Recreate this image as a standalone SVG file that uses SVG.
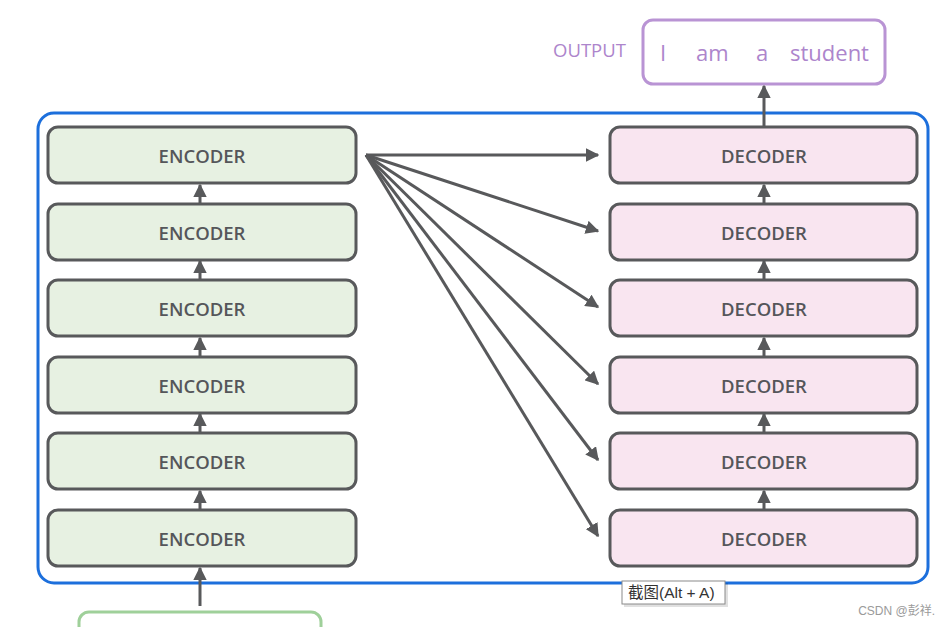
<svg xmlns="http://www.w3.org/2000/svg" width="949" height="627" viewBox="0 0 949 627">
<style>
.enc rect{fill:#e7f1e2;stroke:#58595b;stroke-width:3}
.dec rect{fill:#f9e5f0;stroke:#58595b;stroke-width:3}
.lbl{font-family:"Open Sans","Liberation Sans",sans-serif;font-size:18.5px;font-weight:600;fill:#55565a;text-anchor:middle;dominant-baseline:central}
.con line{stroke:#58595b;stroke-width:3}
.out{font-family:"Open Sans","Liberation Sans",sans-serif;fill:#ad85cc}
</style>
<defs>
<marker id="ah" viewBox="0 0 10 10" refX="9" refY="5" markerWidth="4.5" markerHeight="4.5" orient="auto" markerUnits="strokeWidth">
<path d="M0,0 L10,5 L0,10 z" fill="#58595b"/>
</marker>
</defs>
<rect x="0" y="0" width="949" height="627" fill="#ffffff"/>
<rect id="container" x="38" y="113" width="890" height="470" rx="16" fill="none" stroke="#1c6fdc" stroke-width="3"/>

<g id="input-box"><rect x="79" y="612" width="242" height="40" rx="10" fill="none" stroke="#9fd09a" stroke-width="3"/></g>

<g id="output">
<text class="out" x="553" y="57" font-size="18.5">OUTPUT</text>
<rect x="643" y="20" width="242" height="64" rx="10" fill="none" stroke="#b994d4" stroke-width="3"/>
<text class="out" x="660" y="61" font-size="22">I</text>
<text class="out" x="696" y="61" font-size="22">am</text>
<text class="out" x="756" y="61" font-size="22">a</text>
<text class="out" x="790" y="61" font-size="22">student</text>
</g>

<g id="enc1" class="enc"><rect x="48" y="127" width="308" height="56" rx="10"/><text class="lbl" x="202" y="155">ENCODER</text></g>
<g id="enc2" class="enc"><rect x="48" y="204" width="308" height="56" rx="10"/><text class="lbl" x="202" y="232">ENCODER</text></g>
<g id="enc3" class="enc"><rect x="48" y="280" width="308" height="56" rx="10"/><text class="lbl" x="202" y="308">ENCODER</text></g>
<g id="enc4" class="enc"><rect x="48" y="357" width="308" height="56" rx="10"/><text class="lbl" x="202" y="385">ENCODER</text></g>
<g id="enc5" class="enc"><rect x="48" y="433" width="308" height="56" rx="10"/><text class="lbl" x="202" y="461">ENCODER</text></g>
<g id="enc6" class="enc"><rect x="48" y="510" width="308" height="56" rx="10"/><text class="lbl" x="202" y="538">ENCODER</text></g>

<g id="dec1" class="dec"><rect x="610" y="127" width="307" height="56" rx="10"/><text class="lbl" x="764" y="155">DECODER</text></g>
<g id="dec2" class="dec"><rect x="610" y="204" width="307" height="56" rx="10"/><text class="lbl" x="764" y="232">DECODER</text></g>
<g id="dec3" class="dec"><rect x="610" y="280" width="307" height="56" rx="10"/><text class="lbl" x="764" y="308">DECODER</text></g>
<g id="dec4" class="dec"><rect x="610" y="357" width="307" height="56" rx="10"/><text class="lbl" x="764" y="385">DECODER</text></g>
<g id="dec5" class="dec"><rect x="610" y="433" width="307" height="56" rx="10"/><text class="lbl" x="764" y="461">DECODER</text></g>
<g id="dec6" class="dec"><rect x="610" y="510" width="307" height="56" rx="10"/><text class="lbl" x="764" y="538">DECODER</text></g>

<g id="connectors" class="con">
<line x1="200" y1="606" x2="200" y2="568" marker-end="url(#ah)"/>
<line x1="200" y1="510" x2="200" y2="491" marker-end="url(#ah)"/>
<line x1="200" y1="433" x2="200" y2="414" marker-end="url(#ah)"/>
<line x1="200" y1="357" x2="200" y2="338" marker-end="url(#ah)"/>
<line x1="200" y1="280" x2="200" y2="261" marker-end="url(#ah)"/>
<line x1="200" y1="204" x2="200" y2="185" marker-end="url(#ah)"/>
<line x1="764" y1="510" x2="764" y2="491" marker-end="url(#ah)"/>
<line x1="764" y1="433" x2="764" y2="414" marker-end="url(#ah)"/>
<line x1="764" y1="357" x2="764" y2="338" marker-end="url(#ah)"/>
<line x1="764" y1="280" x2="764" y2="261" marker-end="url(#ah)"/>
<line x1="764" y1="204" x2="764" y2="185" marker-end="url(#ah)"/>
<line x1="764" y1="127" x2="764" y2="86" marker-end="url(#ah)"/>
<line x1="366" y1="155" x2="598" y2="155" marker-end="url(#ah)"/>
<line x1="366" y1="155" x2="598" y2="231" marker-end="url(#ah)"/>
<line x1="366" y1="155" x2="598" y2="307" marker-end="url(#ah)"/>
<line x1="366" y1="155" x2="598" y2="384" marker-end="url(#ah)"/>
<line x1="366" y1="155" x2="598" y2="460" marker-end="url(#ah)"/>
<line x1="366" y1="155" x2="598" y2="536" marker-end="url(#ah)"/>
</g>

<g id="tooltip">
<rect x="624" y="583" width="104" height="24" fill="#000" opacity="0.12"/>
<rect x="622" y="581" width="103" height="23" fill="#ffffff" stroke="#8a8a8a" stroke-width="1"/>
<text x="628" y="598" font-family="'Liberation Sans','Noto Sans CJK SC',sans-serif" font-size="15.5" fill="#333">截图(Alt + A)</text>
</g>
<text x="935" y="615" text-anchor="end" font-family="'Liberation Sans','Noto Sans CJK SC',sans-serif" font-size="12" fill="#9a9a9a">CSDN @彭祥.</text>
</svg>
